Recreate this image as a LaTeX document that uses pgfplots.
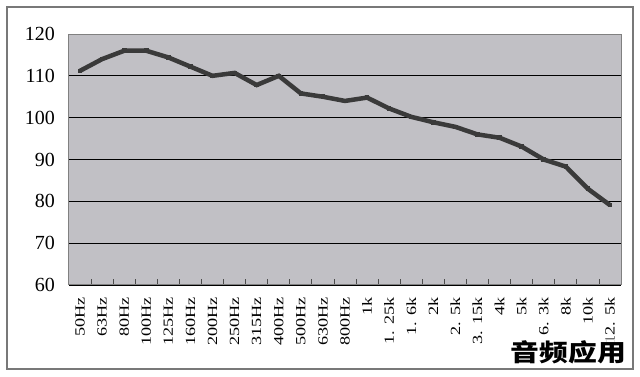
\documentclass[border=0pt]{standalone}
\usepackage{graphicx}
\usepackage{pgfplots}
\pgfplotsset{compat=1.18}
\usepackage{fontspec}
\setmainfont{Liberation Serif}
\newfontfamily\cjk{Noto Sans CJK SC}
\definecolor{plotbg}{RGB}{193,192,197}
\definecolor{linec}{RGB}{58,58,58}
\definecolor{framec}{RGB}{120,120,120}
\newcommand\xl[1]{\scalebox{1.3}[1]{#1}}
\begin{document}
\begin{tikzpicture}
\path[use as bounding box] (-69pt,-92pt) rectangle (571pt,285pt);
\draw[framec, line width=1.4pt] (-62pt,-84pt) rectangle (564pt,278pt);
\begin{axis}[
  at={(0,0)}, anchor=south west,
  scale only axis,
  width=552pt, height=251pt,
  xmin=-0.5, xmax=24.5,
  ymin=60, ymax=120,
  ytick={60,70,...,120},
  xtick={0,...,24},
  xticklabels={\xl{50Hz},\xl{63Hz},\xl{80Hz},\xl{100Hz},\xl{125Hz},\xl{160Hz},\xl{200Hz},\xl{250Hz},\xl{315Hz},\xl{400Hz},\xl{500Hz},\xl{630Hz},\xl{800Hz},\xl{1k},\xl{1. 25k},\xl{1. 6k},\xl{2k},\xl{2. 5k},\xl{3. 15k},\xl{4k},\xl{5k},\xl{6. 3k},\xl{8k},\xl{10k},\xl{12. 5k}},
  minor xtick={0.5,1.5,...,23.5},
  xtick pos=bottom, ytick pos=left,
  tick align=inside,
  major x tick style={draw=none},
  ytick style={draw=none},
  minor tick length=6pt,
  minor x tick style={black!70, line width=0.8pt},
  ymajorgrids,
  grid style={black, line width=0.8pt},
  axis background/.style={fill=plotbg},
  axis line style={gray, line width=1pt},
  /pgf/number format/assume math mode=true,
  yticklabel shift=14pt,
  xticklabel shift=12pt,
  yticklabel style={font=\fontsize{20}{20}\selectfont, anchor=east, inner sep=0pt},
  xticklabel style={font=\fontsize{14}{14}\selectfont, rotate=90, anchor=east, inner sep=0pt},
]
\addplot[linec, line width=4.5pt, mark=square*, mark size=1.8pt, mark options={fill=linec, draw=linec, line width=0pt}] coordinates {
(0,111.2) (1,114.0) (2,116.0) (3,116.0) (4,114.4) (5,112.2) (6,110.0) (7,110.7) (8,107.8) (9,110.0)
(10,105.8) (11,105.0) (12,104.0) (13,104.8) (14,102.2) (15,100.2) (16,98.9) (17,97.8) (18,96.0) (19,95.2)
(20,93.1) (21,90.0) (22,88.3) (23,83.0) (24,79.1)
};
\end{axis}
\node[fill=white, fill opacity=0.75, text opacity=1, inner sep=1pt, xscale=1.2] at (499.5pt,-67pt) {\cjk\bfseries\fontsize{24}{24}\selectfont 音频应用};
\end{tikzpicture}
\end{document}
